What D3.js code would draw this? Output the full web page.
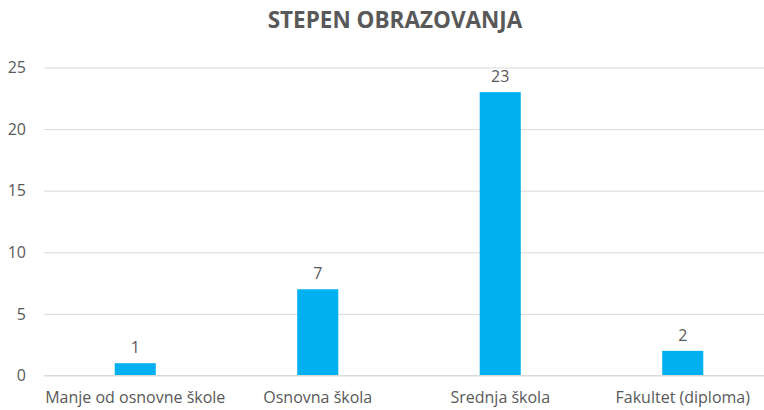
<!DOCTYPE html>
<html>
<head>
<meta charset="utf-8">
<script src="https://cdn.jsdelivr.net/npm/d3@7"></script>
<style>
  body { margin: 0; background: #fff; }
  #chart { width: 764px; height: 410px; display: block; }
  text { font-family: "Open Sans", sans-serif; fill: #595959; }
</style>
</head>
<body>
<svg id="chart"></svg>
<script>
var categories = ["Manje od osnovne škole", "Osnovna škola", "Srednja škola", "Fakultet (diploma)"];
var values = [1, 7, 23, 2];
var yTicks = [0, 5, 10, 15, 20, 25];
var title = "STEPEN OBRAZOVANJA";

var svg = d3.select("#chart"),
    margin = {top: 67.5, right: -10, bottom: 34.5, left: 44},
    width = 764 - margin.left - margin.right,
    height = 410 - margin.top - margin.bottom,
    g = svg.append("g").attr("transform", "translate(" + margin.left + "," + margin.top + ")");

var xScale = d3.scaleBand()
    .domain(categories)
    .range([0, width])
    .paddingInner(0.775)
    .paddingOuter(0.3875);

var yScale = d3.scaleLinear()
    .domain([0, 25])
    .range([height, 0]);

// title
svg.append("text")
    .attr("x", 395)
    .attr("y", 28)
    .attr("text-anchor", "middle")
    .style("font-size", "22.5px")
    .style("font-weight", "bold")
    .text(title);

// gridlines + y labels
var yAxis = d3.axisLeft(yScale).tickValues(yTicks).tickSize(-width).tickPadding(18);
g.append("g")
    .attr("class", "axis axis--y")
    .call(yAxis)
    .call(function(a) {
      a.select(".domain").remove();
      a.selectAll(".tick line").attr("stroke", "#d9d9d9").attr("stroke-width", 1);
      a.selectAll(".tick text").style("font-size", "16px").attr("fill", "#595959").attr("font-family", null);
    });

// bars
g.selectAll(".bar")
  .data(values)
  .enter().append("rect")
    .attr("class", "bar")
    .attr("x", function(d, i) { return xScale(categories[i]); })
    .attr("y", function(d) { return yScale(d); })
    .attr("width", xScale.bandwidth())
    .attr("height", function(d) { return height - yScale(d); })
    .attr("fill", "#00b0f0");

// baseline
g.append("line")
    .attr("x1", 0).attr("x2", width)
    .attr("y1", yScale(0)).attr("y2", yScale(0))
    .attr("stroke", "#d9d9d9");

// value labels
g.selectAll(".val")
  .data(values)
  .enter().append("text")
    .attr("class", "val")
    .attr("x", function(d, i) { return xScale(categories[i]) + xScale.bandwidth() / 2; })
    .attr("y", function(d) { return yScale(d) - 10; })
    .attr("text-anchor", "middle")
    .style("font-size", "16px")
    .text(function(d) { return d; });

// x axis labels
var xAxis = d3.axisBottom(xScale).tickSize(0).tickPadding(16);
g.append("g")
    .attr("class", "axis axis--x")
    .attr("transform", "translate(0," + height + ")")
    .call(xAxis)
    .call(function(a) {
      a.select(".domain").remove();
      a.selectAll(".tick text").style("font-size", "16px").attr("fill", "#595959").attr("font-family", null);
    });
</script>
</body>
</html>
